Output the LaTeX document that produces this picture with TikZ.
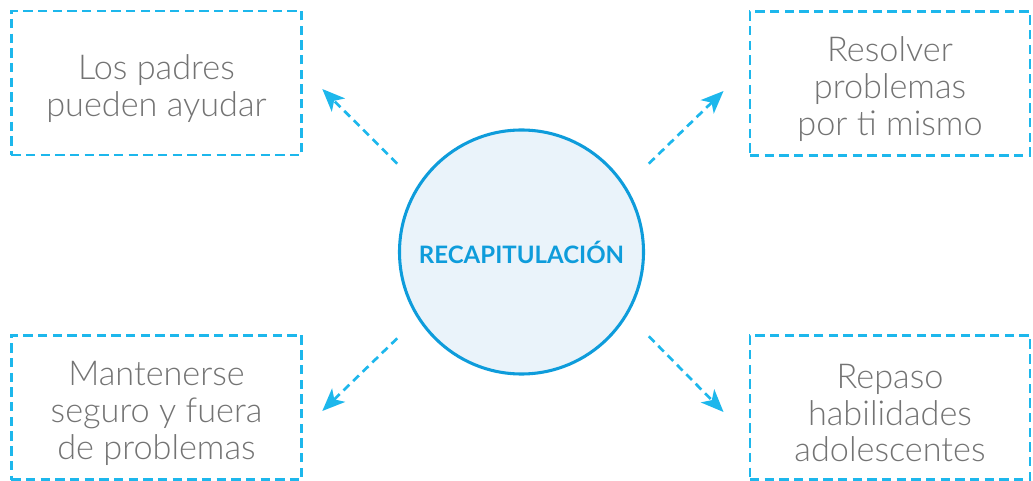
\documentclass[tikz,border=0pt]{standalone}
\usepackage{fontspec}
\setmainfont{Lato}
\newfontfamily\lightfont{Lato Light}
\usetikzlibrary{arrows.meta}

\definecolor{dashcyan}{HTML}{1DB7EC}
\definecolor{ringblue}{HTML}{0E9CDB}
\definecolor{ringfill}{HTML}{EAF3FA}
\definecolor{textgrey}{HTML}{737373}

% extra room above the first line, pushes the text a bit down
\newcommand{\topgap}{\rule{0pt}{27pt}}

\begin{document}
\begin{tikzpicture}[
    x=0.75pt,
    y=-0.75pt,
    topic/.style={
        draw=dashcyan,
        line width=2.2pt,
        dash pattern=on 7pt off 4pt,
        minimum height=108pt,
        align=center,
        text=textgrey,
        font=\lightfont\fontsize{25.7}{27.4}\selectfont
    },
    hub/.style={
        draw=ringblue,
        fill=ringfill,
        circle,
        line width=2.3pt,
        minimum size=183pt,
        text=ringblue,
        font=\bfseries\fontsize{18}{20}\selectfont
    },
    link/.style={
        -{Stealth[length=17pt,width=14pt,inset=4.5pt]},
        draw=dashcyan,
        line width=2pt,
        dash pattern=on 6pt off 4pt
    }
]
\useasboundingbox (0,0) rectangle (1033,481);

%------------------------------------------------
% Nodes
%------------------------------------------------
\node[hub] (recap) at (521.5,252) {RECAPITULACIÓN};

\node[topic, minimum width=218pt] (padres)   at (156.5,83)    {\topgap Los padres\\pueden ayudar};
\node[topic, minimum width=210pt] (resolver) at (890,83.5)    {\topgap Resolver\\problemas\\por ti mismo};
\node[topic, minimum width=218pt] (seguro)   at (156.5,407.5) {\topgap Mantenerse\\seguro y fuera\\de problemas};
\node[topic, minimum width=210pt] (repaso)   at (890,407.5)   {\topgap Repaso\\habilidades\\adolescentes};

%------------------------------------------------
% Arrows
%------------------------------------------------
\draw[link] ([shift={(-37,-1)}]recap.north west) -- ([shift={(19,6)}]padres.east);
\draw[link] ([shift={(40,-1)}]recap.north east) -- ([shift={(-25,7.5)}]resolver.west);
\draw[link] ([shift={(-37,-1)}]recap.south west) -- ([shift={(19,3.5)}]seguro.east);
\draw[link] ([shift={(40,-3)}]recap.south east) -- ([shift={(-25,4.5)}]repaso.west);

\end{tikzpicture}
\end{document}
